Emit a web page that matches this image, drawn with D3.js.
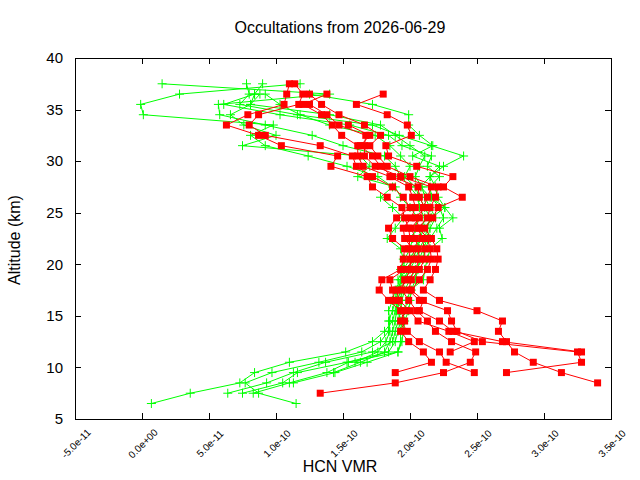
<!DOCTYPE html>
<html>
<head>
<meta charset="utf-8">
<script src="https://cdn.jsdelivr.net/npm/d3@7"></script>
<style>
  body { margin: 0; background: #fff; }
  svg { display: block; font-family: "Liberation Sans", Arial, sans-serif; }
</style>
</head>
<body>
<svg width="640" height="480"></svg>
<script>
// altitude levels (km), shared by every profile
const altitudes = [6.5, 7.5, 8.5, 9.5, 10.5, 11.5, 12.5, 13.5, 14.5, 15.5, 16.5, 17.5,
  18.5, 19.5, 20.5, 21.5, 22.5, 23.5, 24.5, 25.5, 26.5, 27.5, 28.5, 29.5, 30.5,
  31.5, 32.5, 33.5, 34.5, 35.5, 36.5, 37.5];

// HCN VMR values in units of 1e-10, one per altitude (null = no point)
const unit = 1e-10;
const green1 = [0.07, 0.36, 0.73, 0.84, 1.10, 1.52, 1.72, 1.81, 1.87, 1.89, 1.91, 1.93, 1.91, 1.95, 2.00, 2.04, 2.07, 2.11, 2.16, 2.26, 2.15, 2.08, 2.15, 2.25, 2.40, 2.16, 1.92, 1.72, 1.16, 0.73, 0.80, 0.78];
const green2 = [1.15, 0.87, 0.77, 0.97, 1.32, 1.64, 1.78, 1.84, 1.85, 1.84, 1.87, 1.89, 1.93, 1.96, 1.95, 1.93, 1.83, 1.89, 1.95, 1.87, 1.78, 1.87, 1.76, 1.53, 1.24, 0.92, 0.81, 0.98, 0.01, -0.01, 0.28, 1.18];
const green3 = [null, 0.64, 0.93, 1.13, 1.37, 1.72, 1.87, 1.89, 1.91, 1.93, 1.94, 1.96, 2.00, 2.04, 2.10, 2.11, 2.15, 2.20, 2.25, 2.22, 2.16, 2.15, 2.22, 2.13, 2.16, 1.94, 1.84, 1.55, 1.03, 0.61, 0.84, 0.90];
const green4 = [null, 0.75, 1.05, 1.16, 1.53, 1.84, 1.89, 1.91, 1.93, 1.91, 1.90, 1.91, 1.95, 1.99, 2.01, 2.06, 2.07, 2.09, 2.11, 2.07, 2.06, 2.00, 1.93, 1.89, 1.81, 1.50, 1.27, 0.92, 0.58, 0.57, 1.40, 0.15];
const green5 = [null, 0.83, 1.10, 1.38, 1.54, 1.91, 1.93, 1.93, 1.94, 1.96, 1.98, 2.00, 2.10, 2.11, 2.13, 2.15, 2.24, 2.22, 2.32, 2.26, 2.21, 2.19, 2.15, 2.22, 2.02, 2.17, 2.07, 1.99, 1.99, 1.72, 1.25, null];
const green6 = [null, null, 1.13, 1.44, 1.68, 1.91, 1.94, 1.95, 1.96, 1.99, 2.00, 2.01, 2.04, 2.06, 2.07, 2.10, 2.13, 2.15, 2.19, 2.15, 2.11, 2.09, 2.04, 2.07, 2.11, 2.00, 1.89, 1.78, 1.40, 0.81, 0.88, null];
const green7 = [null, null, null, 1.43, 1.63, 1.81, 1.85, 1.87, 1.89, 1.90, 1.93, 1.94, 1.96, 2.00, 2.04, 2.07, 2.11, 2.13, 2.15, 2.11, 2.07, 2.04, 1.96, 2.00, 1.93, 1.85, 1.74, 1.40, 1.18, 1.03, 0.92, null];
const green8 = [null, null, null, null, 1.59, 1.76, 1.82, 1.85, 1.84, 1.87, 1.89, 1.90, 1.94, 1.93, 1.96, 2.00, 2.02, 2.04, 2.06, 2.00, 1.93, 1.89, 1.61, 1.70, 1.63, 0.75, 1.00, 0.76, 0.66, 0.81, 0.84, null];

const red1 = [null, 1.33, 1.89, 2.25, 2.45, 2.49, 2.31, 2.19, 2.13, 2.05, 1.99, 1.94, 1.96, 2.01, 2.00, 1.99, 2.00, 1.99, 1.96, 1.94, 1.83, 1.72, 1.68, 1.41, 1.46, 1.04, 0.87, 0.63, 0.79, 1.06, 1.08, 1.10];
const red2 = [null, null, 3.40, 3.13, 2.92, 2.78, 2.72, 2.66, 2.69, 2.50, 2.22, 2.10, 2.15, 2.19, 2.21, 2.20, 2.16, 2.11, 2.17, 2.21, 2.39, 2.25, 2.32, 2.05, 1.84, 1.82, 2.01, 1.98, 1.83, 1.60, 1.80, null];
const red3 = [null, null, null, 1.89, 2.16, 2.10, 1.99, 1.93, 1.96, 1.93, 1.84, 1.77, 1.79, 1.93, 1.95, 1.96, 1.87, 1.84, 1.90, 2.00, 1.95, 1.87, 1.72, 1.60, 1.57, 1.33, 0.92, 0.80, 0.87, 1.17, 1.20, 1.14];
const red4 = [null, null, null, 2.48, 2.27, 2.22, 2.07, 1.98, 1.93, 1.97, 1.88, 1.87, 1.85, 1.96, 2.04, 2.02, 1.96, 1.95, 2.01, 2.04, 2.02, 1.99, 1.85, 1.65, 1.61, 1.61, 1.49, 1.42, 1.34, 1.20, 1.38, null];
const red5 = [null, null, null, 2.72, 3.28, 3.25, 2.54, 2.35, 2.31, 2.28, 2.07, 1.99, 2.01, 2.07, 2.11, 2.11, 2.09, 2.06, 2.13, 2.15, 2.19, 2.21, 2.00, 1.83, 1.76, 1.70, 1.78, 1.66, 1.47, 1.34, 1.25, null];
const red6 = [null, null, null, null, null, 2.30, 2.48, 2.29, 2.06, 2.00, 1.92, 1.90, 1.99, 2.04, 2.07, 2.06, 2.04, 2.01, 2.07, 2.10, 2.13, 2.16, 1.93, 1.74, 1.66, 1.66, 1.67, 1.47, 1.38, 1.25, null, null];
const red7 = [null, null, null, null, null, 3.28, 2.69, 2.32, 2.22, 2.07, 2.10, 2.01, 2.07, 2.13, 2.16, 2.15, 2.13, 2.07, 2.04, 2.11, 2.07, 2.06, 1.87, 1.78, 1.72, 1.63, 1.70, 1.54, null, null, null, null];

const greens = [green1, green2, green3, green4, green5, green6, green7, green8];
const reds = [red1, red2, red3, red4, red5, red6, red7];

const xTicks = [-5e-11, 0, 5e-11, 1e-10, 1.5e-10, 2e-10, 2.5e-10, 3e-10, 3.5e-10];
const yTicks = [5, 10, 15, 20, 25, 30, 35, 40];

const svg = d3.select('svg');
const box = { left: 75, right: 611, top: 58, bottom: 419 };

const x = d3.scaleLinear().domain([-5e-11, 3.5e-10]).range([box.left, box.right]);
const y = d3.scaleLinear().domain([5, 40]).range([box.bottom, box.top]);

function fmtE(v) {
  if (Math.abs(v) < 1e-20) v = 0;
  return v.toExponential(1).replace(/e([+-])(\d)$/, 'e$10$2');
}

function toPoints(vals) {
  return vals.map((v, i) => ({ v: v, a: altitudes[i] })).filter(d => d.v !== null);
}

// axes: ticks pointing inward on all four sides
const ax = svg.append('g').attr('shape-rendering', 'crispEdges');

ax.append('g')
  .attr('transform', `translate(0,${box.bottom})`)
  .call(d3.axisBottom(x).tickValues(xTicks).tickSizeInner(-6).tickSizeOuter(0).tickFormat(fmtE))
  .call(g => g.select('.domain').remove())
  .call(g => g.selectAll('text')
    .attr('x', null).attr('y', null).attr('dy', null)
    .attr('transform', 'translate(3,27) rotate(-45)')
    .attr('text-anchor', 'middle')
    .attr('font-size', 10)
    .attr('fill', '#000'));

ax.append('g')
  .attr('transform', `translate(0,${box.top})`)
  .call(d3.axisTop(x).tickValues(xTicks).tickSizeInner(-6).tickSizeOuter(0).tickFormat(''))
  .call(g => g.select('.domain').remove());

ax.append('g')
  .attr('transform', `translate(${box.left},0)`)
  .call(d3.axisLeft(y).tickValues(yTicks).tickSizeInner(-6).tickSizeOuter(0).tickPadding(12))
  .call(g => g.select('.domain').remove())
  .call(g => g.selectAll('text').attr('font-size', 15).attr('fill', '#000'));

ax.append('g')
  .attr('transform', `translate(${box.right},0)`)
  .call(d3.axisRight(y).tickValues(yTicks).tickSizeInner(-6).tickSizeOuter(0).tickFormat(''))
  .call(g => g.select('.domain').remove());

ax.selectAll('.tick line').attr('stroke', '#000');

ax.append('rect')
  .attr('x', box.left).attr('y', box.top)
  .attr('width', box.right - box.left).attr('height', box.bottom - box.top)
  .attr('fill', 'none').attr('stroke', '#000');

// profiles
const line = d3.line().x(d => x(d.v * unit)).y(d => y(d.a));
const plot = svg.append('g');

greens.forEach(vals => {
  const pts = toPoints(vals);
  const g = plot.append('g');
  g.append('path').attr('d', line(pts))
    .attr('fill', 'none').attr('stroke', '#00ff00').attr('stroke-width', 1);
  g.selectAll('path.pt').data(pts).enter().append('path')
    .attr('class', 'pt')
    .attr('d', d => `M${x(d.v * unit) - 4.5},${y(d.a)}h9M${x(d.v * unit)},${y(d.a) - 4.5}v9`)
    .attr('stroke', '#00ff00').attr('stroke-width', 1);
});

reds.forEach(vals => {
  const pts = toPoints(vals);
  const g = plot.append('g');
  g.append('path').attr('d', line(pts))
    .attr('fill', 'none').attr('stroke', '#ff0000').attr('stroke-width', 1);
  g.selectAll('rect').data(pts).enter().append('rect')
    .attr('x', d => x(d.v * unit) - 3.5)
    .attr('y', d => y(d.a) - 3.5)
    .attr('width', 7).attr('height', 7)
    .attr('fill', '#ff0000');
});

// titles
svg.append('text')
  .attr('x', 340).attr('y', 33)
  .attr('text-anchor', 'middle').attr('font-size', 16)
  .text('Occultations from 2026-06-29');

svg.append('text')
  .attr('x', 340).attr('y', 472)
  .attr('text-anchor', 'middle').attr('font-size', 16)
  .text('HCN VMR');

svg.append('text')
  .attr('transform', 'translate(20,240) rotate(-90)')
  .attr('text-anchor', 'middle').attr('font-size', 16)
  .text('Altitude (km)');
</script>
</body>
</html>
